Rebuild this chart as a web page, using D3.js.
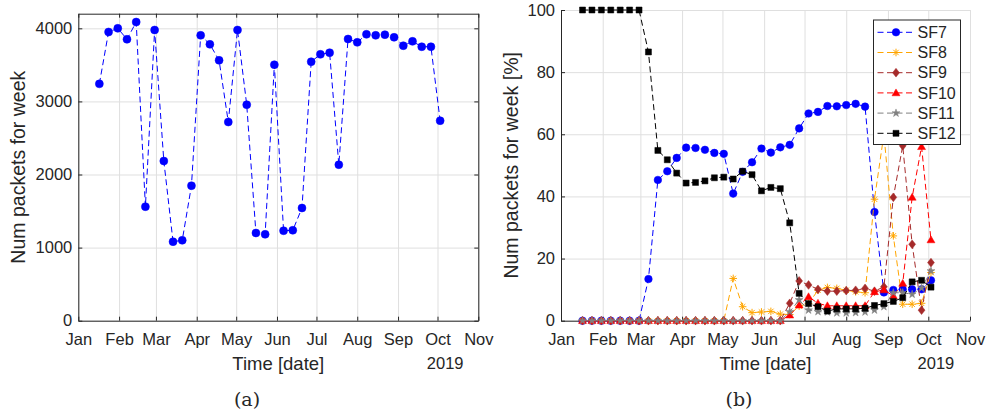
<!DOCTYPE html>
<html>
<head>
<meta charset="utf-8">
<script src="https://cdn.jsdelivr.net/npm/d3@7"></script>
<style>
  html, body { margin: 0; padding: 0; background: #fff; }
  svg { display: block; }
  text { font-family: "Liberation Sans", Arial, Helvetica, sans-serif; fill: #262626; }
  .cap { font-family: "DejaVu Serif", "Liberation Serif", serif; }
</style>
</head>
<body>
<svg id="fig" width="987" height="416"></svg>
<script>
// Weekly sample dates (2019)
const weeks = [
  "2019-01-17","2019-01-24","2019-01-31","2019-02-07","2019-02-14","2019-02-21","2019-02-28",
  "2019-03-07","2019-03-14","2019-03-21","2019-03-28","2019-04-04","2019-04-11","2019-04-18",
  "2019-04-25","2019-05-02","2019-05-09","2019-05-16","2019-05-23","2019-05-30","2019-06-06",
  "2019-06-13","2019-06-20","2019-06-27","2019-07-04","2019-07-11","2019-07-18","2019-07-25",
  "2019-08-01","2019-08-08","2019-08-15","2019-08-22","2019-08-29","2019-09-05","2019-09-12",
  "2019-09-19","2019-09-26","2019-10-03"
];

// (a) packets received per week
const packets = [
  3240, 3950, 4000, 3850, 4086, 1560, 3977, 2185, 1081, 1100, 1847, 3904, 3781, 3562,
  2718, 3977, 2955, 1200, 1182, 3502, 1231, 1237, 1542, 3543, 3644, 3666, 2134, 3854,
  3808, 3918, 3904, 3913, 3877, 3762, 3822, 3748, 3748, 2736
];

// (b) share of packets per spreading factor [%]
const sf7 = [
  0, 0, 0, 0, 0, 0, 0, 13.4, 45.3, 48.1, 52.4, 55.7, 55.6, 55.0,
  54.0, 53.7, 40.9, 47.9, 51.0, 55.4, 54.1, 55.8, 56.6, 61.9, 66.7, 67.2, 69.1, 69.0,
  69.4, 69.8, 68.9, 35.0, 9.1, 9.9, 10.1, 10.1, 10.1, 13.0
];
const sf8 = [
  0, 0, 0, 0, 0, 0, 0, 0, 0, 0, 0, 0, 0, 0,
  0, 0, 13.6, 4.5, 2.6, 2.8, 3.0, 2.1, 2.0, 4.7, 5.5, 9.8, 10.7, 10.4,
  9.8, 9.3, 9.0, 39.1, 60.0, 27.3, 5.3, 5.3, 5.6, 15.5
];
const sf9 = [
  0, 0, 0, 0, 0, 0, 0, 0, 0, 0, 0, 0, 0, 0,
  0, 0, 0, 0, 0, 0, 0, 0, 5.6, 12.8, 11.5, 10.1, 9.5, 9.5,
  9.7, 9.8, 10.4, 9.5, 10.9, 39.7, 56.3, 24.6, 3.4, 18.7
];
const sf10 = [
  0, 0, 0, 0, 0, 0, 0, 0, 0, 0, 0, 0, 0, 0,
  0, 0, 0, 0, 0, 0, 0, 0, 1.8, 5.0, 7.7, 5.6, 4.8, 4.8,
  4.8, 4.8, 4.8, 9.3, 9.9, 8.0, 12.0, 39.7, 56.0, 26.0
];
const sf11 = [
  0, 0, 0, 0, 0, 0, 0, 0, 0, 0, 0, 0, 0, 0,
  0, 0, 0, 0, 0, 0, 0, 0, 2.9, 6.7, 3.4, 2.9, 2.8, 2.5,
  2.5, 2.6, 2.8, 3.4, 4.5, 9.0, 9.0, 8.5, 10.5, 16.0
];
const sf12 = [
  100, 100, 100, 100, 100, 100, 100, 86.5, 54.8, 51.8, 47.5, 44.3, 44.5, 45.0,
  46.0, 46.2, 45.6, 48.1, 47.0, 41.8, 42.9, 42.5, 31.5, 8.8, 5.5, 4.5, 3.1, 3.8,
  3.8, 3.8, 4.0, 4.9, 5.5, 6.2, 7.4, 12.5, 13.0, 10.8
];

const seriesNames = ["SF7", "SF8", "SF9", "SF10", "SF11", "SF12"];
const seriesColors = ["#0000ff", "#ffa500", "#a52a2a", "#ff0000", "#808080", "#000000"];
const seriesMarkers = ["circle", "asterisk", "diamond", "triangle", "pentagram", "square"];

// Axis ticks
const monthTicks = ["2019-01-01","2019-02-01","2019-03-01","2019-04-01","2019-05-01","2019-06-01",
                    "2019-07-01","2019-08-01","2019-09-01","2019-10-01","2019-11-01"];
const monthLabels = ["Jan","Feb","Mar","Apr","May","Jun","Jul","Aug","Sep","Oct","Nov"];
const packetTicks = [0, 1000, 2000, 3000, 4000];
const percentTicks = [0, 20, 40, 60, 80, 100];
const yearLabel = "2019";

const parse = d3.utcParse("%Y-%m-%d");
const weekDates = weeks.map(parse);
const tickDates = monthTicks.map(parse);
const labelOf = new Map(tickDates.map((d, i) => [+d, monthLabels[i]]));

const AXIS = "#262626", GRID = "#dfdfdf";
const svg = d3.select("#fig");

// Marker shapes
function markerPath(kind, r) {
  if (kind === "circle") return d3.symbol(d3.symbolCircle, Math.PI * r * r)();
  if (kind === "square") return `M${-r},${-r}H${r}V${r}H${-r}Z`;
  if (kind === "diamond") { const w = r * 0.9, h = r * 1.15; return `M0,${-h}L${w},0L0,${h}L${-w},0Z`; }
  if (kind === "triangle") { const w = r * 1.05, h = r; return `M0,${-h * 1.05}L${w},${h * 0.75}L${-w},${h * 0.75}Z`; }
  if (kind === "asterisk") {
    const a = r * 0.7071;
    return `M${-r},0L${r},0M0,${-r}L0,${r}M${-a},${-a}L${a},${a}M${-a},${a}L${a},${-a}`;
  }
  if (kind === "pentagram") {
    const pts = d3.range(10).map(i => {
      const ang = -Math.PI / 2 + i * Math.PI / 5;
      const rr = i % 2 ? r * 0.42 : r * 1.1;
      return [rr * Math.cos(ang), rr * Math.sin(ang)];
    });
    return "M" + pts.map(p => p.join(",")).join("L") + "Z";
  }
}
function drawMarker(g, kind, color, r) {
  const p = g.append("path").attr("d", markerPath(kind, r));
  if (kind === "asterisk") p.attr("fill", "none").attr("stroke", color).attr("stroke-width", 1);
  else p.attr("fill", color).attr("stroke", color).attr("stroke-width", 0.5);
  return p;
}

function styleAxis(g) {
  g.select(".domain").attr("stroke", AXIS).attr("stroke-width", 1);
  g.selectAll(".tick line").attr("stroke", AXIS);
  g.selectAll(".tick text").attr("fill", AXIS).style("font-size", "16.5px")
    .style("font-family", '"Liberation Sans", Arial, sans-serif');
}

function buildPanel(opt) {
  const { x, y, yTicks, box } = opt;
  const [x0, x1] = x.range(), [y0, y1] = y.range();
  const g = svg.append("g");

  // grid
  g.append("g").attr("transform", `translate(0,${y0})`)
    .call(d3.axisBottom(x).tickValues(tickDates).tickSize(-(y0 - y1)).tickFormat(""))
    .call(a => { a.select(".domain").remove(); a.selectAll("line").attr("stroke", GRID); });
  g.append("g").attr("transform", `translate(${x0},0)`)
    .call(d3.axisLeft(y).tickValues(yTicks).tickSize(-(x1 - x0)).tickFormat(""))
    .call(a => { a.select(".domain").remove(); a.selectAll("line").attr("stroke", GRID); });

  // axes with inward ticks
  g.append("g").attr("transform", `translate(0,${y0})`)
    .call(d3.axisBottom(x).tickValues(tickDates).tickSizeInner(-4).tickSizeOuter(0)
      .tickPadding(12.5).tickFormat(d => labelOf.get(+d)))
    .call(styleAxis);
  g.append("g").attr("transform", `translate(${x0},0)`)
    .call(d3.axisLeft(y).tickValues(yTicks).tickSizeInner(-4).tickSizeOuter(0)
      .tickPadding(6).tickFormat(d3.format("d")))
    .call(styleAxis);
  if (box) {
    g.append("g").attr("transform", `translate(0,${y1})`)
      .call(d3.axisTop(x).tickValues(tickDates).tickSizeInner(-4).tickSizeOuter(0).tickFormat(""))
      .call(styleAxis);
    g.append("g").attr("transform", `translate(${x1},0)`)
      .call(d3.axisRight(y).tickValues(yTicks).tickSizeInner(-4).tickSizeOuter(0).tickFormat(""))
      .call(styleAxis);
  }

  // year under October, axis titles, caption
  const oct = x(tickDates[9]);
  g.append("text").attr("x", oct + 26).attr("y", y0 + 48).attr("text-anchor", "end")
    .style("font-size", "16.5px").text(yearLabel);
  g.append("text").attr("x", (x0 + x1) / 2).attr("y", y0 + 49).attr("text-anchor", "middle")
    .style("font-size", "18.5px").text("Time [date]");
  g.append("text")
    .attr("transform", `translate(${opt.ylabelX},${(y0 + y1) / 2}) rotate(-90)`)
    .attr("text-anchor", "middle").style("font-size", "19.5px").text(opt.ylabel);
  g.append("text").attr("class", "cap").attr("x", opt.capX).attr("y", 406)
    .attr("text-anchor", "middle").style("font-size", "19px").text(opt.caption);
  return g;
}

// ---------- (a) ----------
const xa = d3.scaleUtc().domain([tickDates[0], tickDates[10]]).range([78.3, 478.3]);
const ya = d3.scaleLinear().domain([0, 4200]).range([320.7, 13.7]);
const ga = buildPanel({ x: xa, y: ya, yTicks: packetTicks, box: true,
  ylabel: "Num packets for week", ylabelX: 25, caption: "(a)", capX: 247 });

ga.append("path")
  .attr("d", d3.line().x((d, i) => xa(weekDates[i])).y(d => ya(d))(packets))
  .attr("fill", "none").attr("stroke", "#0000ff").attr("stroke-width", 1)
  .attr("stroke-dasharray", "6,3.5");
packets.forEach((v, i) => {
  const m = ga.append("g").attr("transform", `translate(${xa(weekDates[i])},${ya(v)})`);
  drawMarker(m, "circle", "#0000ff", 4);
});

// ---------- (b) ----------
const xb = d3.scaleUtc().domain([tickDates[0], tickDates[10]]).range([561, 970]);
const yb = d3.scaleLinear().domain([0, 100]).range([320.7, 10]);
const gb = buildPanel({ x: xb, y: yb, yTicks: percentTicks, box: false,
  ylabel: "Num packets for week [%]", ylabelX: 518, caption: "(b)", capX: 739 });

const allSeries = [sf7, sf8, sf9, sf10, sf11, sf12];
allSeries.forEach((vals, s) => {
  const col = seriesColors[s];
  gb.append("path")
    .attr("d", d3.line().x((d, i) => xb(weekDates[i])).y(d => yb(d))(vals))
    .attr("fill", "none").attr("stroke", col).attr("stroke-width", 1)
    .attr("stroke-dasharray", "6,3.5");
  vals.forEach((v, i) => {
    const m = gb.append("g").attr("transform", `translate(${xb(weekDates[i])},${yb(v)})`);
    drawMarker(m, seriesMarkers[s], col, s === 5 ? 3 : 3.8);
  });
});

// legend
const lg = gb.append("g").attr("transform", "translate(873.5,20)");
lg.append("rect").attr("width", 87).attr("height", 124.5)
  .attr("fill", "#fff").attr("stroke", AXIS).attr("stroke-width", 1);
seriesNames.forEach((name, s) => {
  const row = lg.append("g").attr("transform", `translate(0,${12.3 + s * 20.2})`);
  row.append("line").attr("x1", 4).attr("x2", 41).attr("y1", 0).attr("y2", 0)
    .attr("stroke", seriesColors[s]).attr("stroke-width", 1).attr("stroke-dasharray", "6,3.5");
  const m = row.append("g").attr("transform", "translate(22.5,0)");
  drawMarker(m, seriesMarkers[s], seriesColors[s], s === 5 ? 3 : 3.8);
  row.append("text").attr("x", 44).attr("y", 0).attr("dy", "0.36em")
    .style("font-size", "16px").text(name);
});
</script>
</body>
</html>
